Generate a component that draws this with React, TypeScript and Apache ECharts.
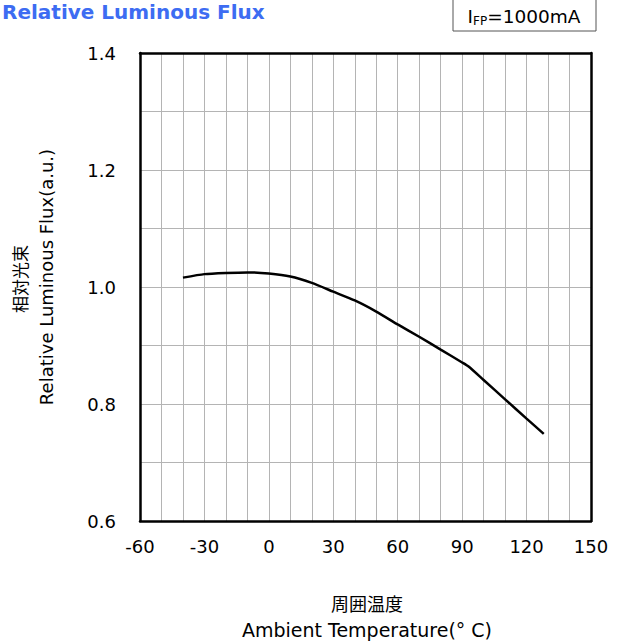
import React, { useEffect, useRef } from "react";
import * as echarts from "echarts";

const temperatures = [-40, -30, -20, -10, 0, 10, 20, 30, 40, 50, 60, 70, 80, 90, 93, 100, 110, 120, 128];
const relativeFlux = [1.016, 1.022, 1.024, 1.025, 1.023, 1.018, 1.007, 0.992, 0.977, 0.958, 0.936, 0.915, 0.893, 0.871, 0.864, 0.841, 0.808, 0.775, 0.749];

const xTickLabels = [-60, -30, 0, 30, 60, 90, 120, 150];
const yTickLabels = ["0.6", "0.8", "1.0", "1.2", "1.4"];

const FONT = "'DejaVu Sans', 'Noto Sans CJK JP', sans-serif";
const GRID = { left: 140, top: 53, width: 451, height: 468 };

export default function App() {
  const ref = useRef<HTMLDivElement>(null);
  useEffect(() => {
    document.body.style.margin = "0";
    const chart = echarts.init(ref.current!, null, { renderer: "svg" });
    const data = temperatures.map((t, i) => [t, relativeFlux[i]]);
    const splitLine = { show: true, lineStyle: { color: "#b4b4b4", width: 1 } };
    const border = { show: true, onZero: false, lineStyle: { color: "#000", width: 2.5 } };
    chart.setOption({
      animation: false,
      backgroundColor: "#fff",
      grid: { left: GRID.left, top: GRID.top, width: GRID.width, height: GRID.height, containLabel: false },
      xAxis: [
        {
          type: "value",
          min: -60,
          max: 150,
          interval: 10,
          position: "bottom",
          axisLine: border,
          axisTick: { show: false },
          splitLine,
          axisLabel: {
            color: "#000",
            fontFamily: FONT,
            fontSize: 18,
            margin: 16,
            formatter: (v: number) => (xTickLabels.includes(Math.round(v)) ? String(Math.round(v)) : ""),
          },
        },
        {
          type: "value",
          min: -60,
          max: 150,
          position: "top",
          axisLine: border,
          axisTick: { show: false },
          axisLabel: { show: false },
          splitLine: { show: false },
        },
      ],
      yAxis: [
        {
          type: "value",
          min: 0.6,
          max: 1.4,
          interval: 0.1,
          position: "left",
          axisLine: border,
          axisTick: { show: false },
          splitLine,
          axisLabel: {
            color: "#000",
            fontFamily: FONT,
            fontSize: 18,
            margin: 24,
            formatter: (v: number) => {
              const s = v.toFixed(1);
              return yTickLabels.includes(s) ? s : "";
            },
          },
        },
        {
          type: "value",
          min: 0.6,
          max: 1.4,
          position: "right",
          axisLine: border,
          axisTick: { show: false },
          axisLabel: { show: false },
          splitLine: { show: false },
        },
      ],
      series: [
        {
          type: "line",
          data,
          showSymbol: false,
          smooth: 0.2,
          lineStyle: { color: "#000", width: 2.5 },
          z: 5,
        },
      ],
      graphic: [
        {
          type: "text",
          x: 2,
          y: 12,
          style: {
            text: "Relative Luminous Flux",
            fill: "#3d6cf2",
            align: "left",
            verticalAlign: "middle",
            font: `bold 20px ${FONT}`,
          },
        },
        {
          type: "rect",
          shape: { x: 453, y: -2, width: 143, height: 33 },
          style: { fill: "#fff", stroke: "#555", lineWidth: 1 },
        },
        {
          type: "text",
          x: 524,
          y: 16,
          style: {
            text: "{a|I}{b|FP}{a|=1000mA}",
            align: "center",
            verticalAlign: "middle",
            fill: "#000",
            rich: {
              a: { fontFamily: FONT, fontSize: 18.5, lineHeight: 22, fill: "#000" },
              b: { fontFamily: FONT, fontSize: 12, lineHeight: 15, verticalAlign: "bottom", fill: "#000" },
            },
          },
        },
        {
          type: "text",
          x: 367,
          y: 604,
          style: { text: "周囲温度", align: "center", verticalAlign: "middle", fill: "#000", font: `18px ${FONT}` },
        },
        {
          type: "text",
          x: 367,
          y: 630,
          style: { text: "Ambient Temperature(° C)", align: "center", verticalAlign: "middle", fill: "#000", font: `19px ${FONT}` },
        },
        {
          type: "text",
          x: 21,
          y: 279,
          rotation: Math.PI / 2,
          style: { text: "相対光束", align: "center", verticalAlign: "middle", fill: "#000", font: `17px ${FONT}` },
        },
        {
          type: "text",
          x: 46,
          y: 277,
          rotation: Math.PI / 2,
          style: { text: "Relative Luminous Flux(a.u.)", align: "center", verticalAlign: "middle", fill: "#000", font: `18px ${FONT}` },
        },
      ],
    });
    return () => chart.dispose();
  }, []);
  return <div ref={ref} style={{ width: 632, height: 643 }} />;
}
